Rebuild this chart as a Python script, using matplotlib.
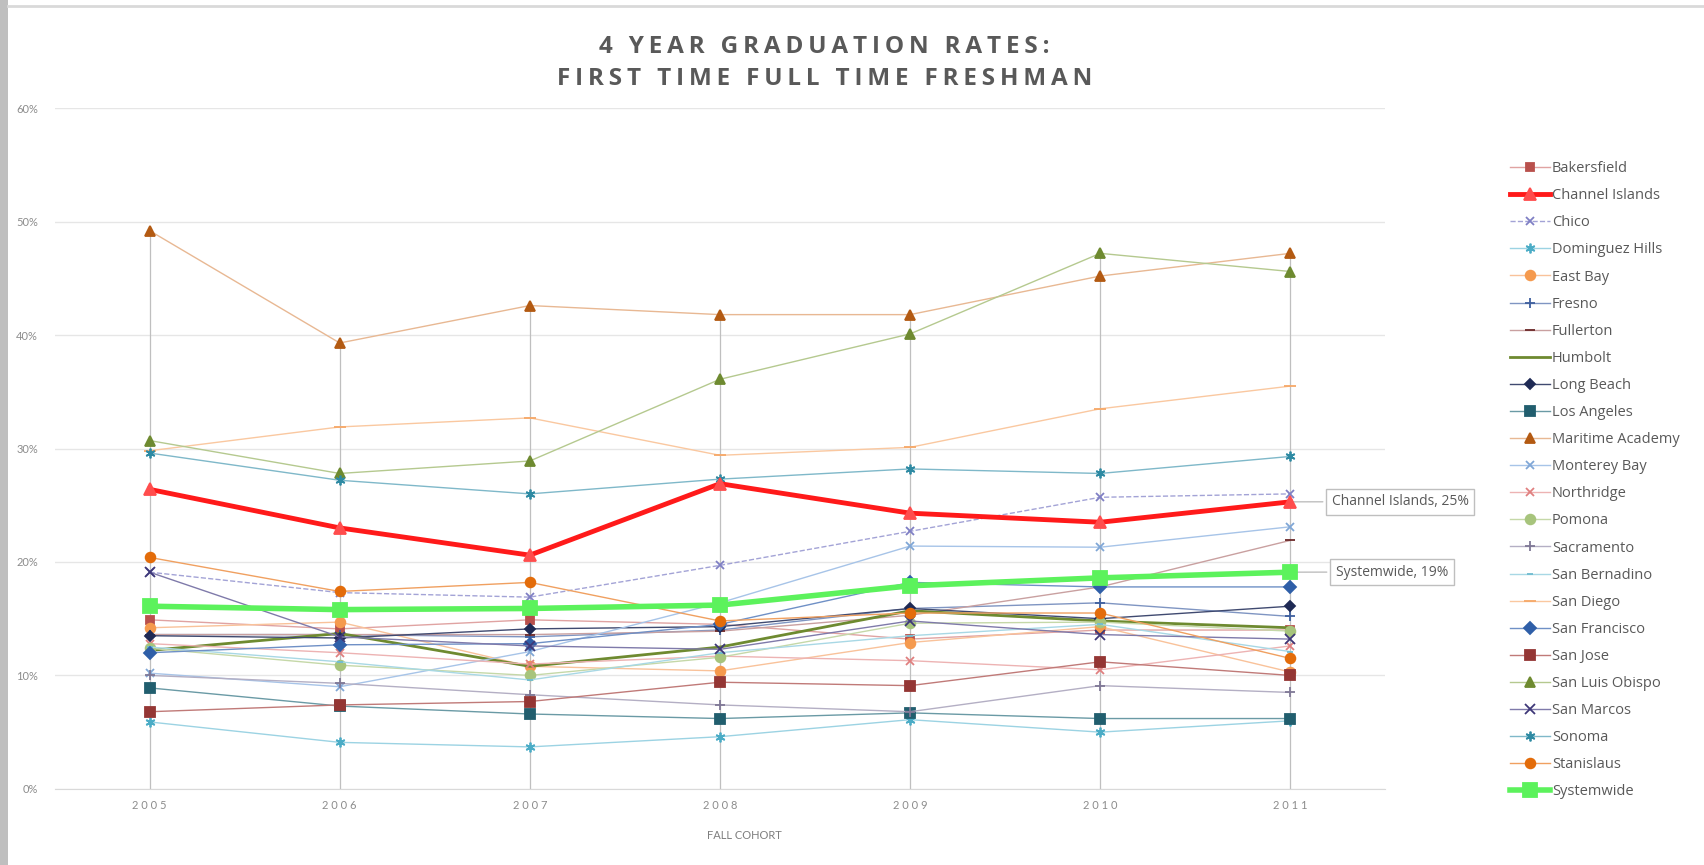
import matplotlib
matplotlib.use("Agg")
import matplotlib.pyplot as plt
import matplotlib.ticker as mticker
from matplotlib.patches import Rectangle
from matplotlib.lines import Line2D

plt.rcParams['font.family'] = ['Lato', 'DejaVu Sans']

years = [2005, 2006, 2007, 2008, 2009, 2010, 2011]

bakersfield = [14.9, 14.1, 14.9, 14.5, 13.2, 14.0, 14.0]
channel_islands = [26.4, 23.0, 20.6, 26.9, 24.3, 23.5, 25.3]
chico = [19.1, 17.3, 16.9, 19.7, 22.7, 25.7, 26.0]
dominguez_hills = [5.9, 4.1, 3.7, 4.6, 6.1, 5.0, 6.0]
east_bay = [14.2, 14.7, 10.8, 10.4, 12.9, 14.3, 10.3]
fresno = [13.6, 13.6, 13.4, 14.0, 15.9, 16.4, 15.2]
fullerton = [13.6, 13.6, 13.6, 13.9, 15.3, 17.8, 21.9]
humbolt = [12.2, 13.7, 10.8, 12.5, 15.7, 14.8, 14.2]
long_beach = [13.5, 13.3, 14.1, 14.3, 15.9, 15.0, 16.1]
los_angeles = [8.9, 7.3, 6.6, 6.2, 6.7, 6.2, 6.2]
maritime_academy = [49.2, 39.3, 42.6, 41.8, 41.8, 45.2, 47.2]
monterey_bay = [10.2, 9.0, 12.1, 16.4, 21.4, 21.3, 23.1]
northridge = [12.8, 12.0, 11.0, 11.7, 11.3, 10.5, 12.6]
pomona = [12.4, 10.9, 10.0, 11.6, 14.6, 14.7, 13.9]
sacramento = [10.0, 9.3, 8.3, 7.4, 6.8, 9.1, 8.5]
san_bernadino = [12.5, 11.2, 9.6, 12.0, 13.5, 14.5, 12.1]
san_diego = [29.8, 31.9, 32.7, 29.4, 30.1, 33.5, 35.5]
san_francisco = [12.0, 12.7, 12.8, 14.5, 18.2, 17.8, 17.8]
san_jose = [6.8, 7.4, 7.7, 9.4, 9.1, 11.2, 10.0]
san_luis_obispo = [30.7, 27.8, 28.9, 36.1, 40.1, 47.2, 45.6]
san_marcos = [19.1, 13.4, 12.6, 12.3, 14.8, 13.6, 13.2]
sonoma = [29.6, 27.2, 26.0, 27.3, 28.2, 27.8, 29.3]
stanislaus = [20.4, 17.4, 18.2, 14.8, 15.5, 15.5, 11.5]
systemwide = [16.1, 15.8, 15.9, 16.2, 17.9, 18.6, 19.1]

campuses = ["Bakersfield", "Channel Islands", "Chico", "Dominguez Hills", "East Bay",
            "Fresno", "Fullerton", "Humbolt", "Long Beach", "Los Angeles",
            "Maritime Academy", "Monterey Bay", "Northridge", "Pomona", "Sacramento",
            "San Bernadino", "San Diego", "San Francisco", "San Jose",
            "San Luis Obispo", "San Marcos", "Sonoma", "Stanislaus", "Systemwide"]
rates = [bakersfield, channel_islands, chico, dominguez_hills, east_bay, fresno,
         fullerton, humbolt, long_beach, los_angeles, maritime_academy, monterey_bay,
         northridge, pomona, sacramento, san_bernadino, san_diego, san_francisco,
         san_jose, san_luis_obispo, san_marcos, sonoma, stanislaus, systemwide]

asterisk = (6, 2, 0)
# line colour, marker colour, marker, marker size, line width, line style
styles = {
    "Bakersfield": ("#E0A3A2", "#B9504C", "s", 6, 1.0, "-"),
    "Channel Islands": ("#FF1A1A", "#FF4D4D", "^", 8, 3.5, "-"),
    "Chico": ("#A3A3D6", "#7F7FC4", "x", 6, 1.0, "--"),
    "Dominguez Hills": ("#9CD3E3", "#4BACC6", asterisk, 7, 1.0, "-"),
    "East Bay": ("#F9C29A", "#F59A4E", "o", 7, 1.0, "-"),
    "Fresno": ("#7F95C2", "#3E5F9E", "+", 7, 1.0, "-"),
    "Fullerton": ("#C9A0A0", "#6B2828", "_", 7, 1.0, "-"),
    "Humbolt": ("#6E8A30", "#6E8A30", "", 0, 2.0, "-"),
    "Long Beach": ("#404A70", "#1F2A55", "D", 5, 1.0, "-"),
    "Los Angeles": ("#6A9AA5", "#215E6E", "s", 7, 1.0, "-"),
    "Maritime Academy": ("#E8B893", "#B35A12", "^", 7, 1.0, "-"),
    "Monterey Bay": ("#A7C4E8", "#7FA6D6", "x", 6, 1.0, "-"),
    "Northridge": ("#EDB3B3", "#E07F7F", "x", 6, 1.0, "-"),
    "Pomona": ("#C5D8A8", "#A7C47C", "o", 7, 1.0, "-"),
    "Sacramento": ("#B4AFC4", "#7F7896", "+", 7, 1.0, "-"),
    "San Bernadino": ("#A8D8E5", "#6FBCD0", "_", 5, 1.0, "-"),
    "San Diego": ("#FAC8A0", "#F6A868", "_", 8, 1.0, "-"),
    "San Francisco": ("#6F90C6", "#2F5FA8", "D", 6, 1.0, "-"),
    "San Jose": ("#C07A78", "#943634", "s", 7, 1.0, "-"),
    "San Luis Obispo": ("#B5C98F", "#6E8A30", "^", 7, 1.0, "-"),
    "San Marcos": ("#7F7AAA", "#3E3878", "x", 7, 1.0, "-"),
    "Sonoma": ("#7FB8C9", "#2E8AA3", asterisk, 7, 1.0, "-"),
    "Stanislaus": ("#F0A060", "#E36C0A", "o", 7, 1.0, "-"),
    "Systemwide": ("#5CF25C", "#5CF25C", "s", 10, 4.0, "-"),
}

fig = plt.figure(figsize=(17.04, 8.65), dpi=100)
ax = fig.add_axes([0.032, 0.088, 0.781, 0.787])

# frame of the original slide
fig.patches.append(Rectangle((0, 0), 8 / 1704, 1, transform=fig.transFigure,
                             facecolor="#BFBFBF", edgecolor="none"))
fig.add_artist(Line2D([8 / 1704, 1], [1 - 6 / 865, 1 - 6 / 865], transform=fig.transFigure,
                      color="#D9D9D9", lw=2))

# drop lines from the highest value down to the axis
tops = [max(r[i] for r in rates) / 100 for i in range(len(years))]
ax.vlines(years, 0, tops, color="#BFBFBF", lw=0.9, zorder=1)

for name, vals in zip(campuses, rates):
    lc, mc, mk, ms, lw, ls = styles[name]
    z = 5 if name in ("Channel Islands", "Systemwide") else 3
    ax.plot(years, [v / 100 for v in vals], color=lc, lw=lw, ls=ls, marker=mk or None,
            markersize=ms, markerfacecolor=mc, markeredgecolor=mc, markeredgewidth=1.3,
            label=name, zorder=z)

ax.set_xlim(2004.5, 2011.5)
ax.set_ylim(0, 0.6)
ax.set_yticks([0, 0.1, 0.2, 0.3, 0.4, 0.5, 0.6])
ax.yaxis.set_major_formatter(mticker.PercentFormatter(1.0, decimals=0))
ax.set_xticks(years)
ax.set_xticklabels([" ".join(str(y)) for y in years])
ax.grid(axis="y", color="#E6E6E6", lw=1)
ax.set_axisbelow(True)
for s in ["top", "right", "left"]:
    ax.spines[s].set_visible(False)
ax.spines["bottom"].set_color("#D9D9D9")
ax.tick_params(length=0, colors="#8C8C8C", labelsize=8)
ax.tick_params(axis="x", pad=8)
ax.tick_params(axis="y", pad=12)
ax.set_xlabel("FALL COHORT", color="#7F7F7F", fontsize=8)
ax.xaxis.set_label_coords(0.518, -0.061)


def spaced(s):
    return "\u2009".join(s)


title_font = ["Open Sans", "DejaVu Sans"]
fig.text(0.484, 0.946, spaced("4 YEAR GRADUATION RATES:"), ha="center", va="center",
         fontsize=17.5, fontweight="bold", color="#595959", family=title_font)
fig.text(0.484, 0.909, spaced("FIRST TIME FULL TIME FRESHMAN"), ha="center", va="center",
         fontsize=17.5, fontweight="bold", color="#595959", family=title_font)

box = dict(boxstyle="square,pad=0.4", fc="white", ec="#BFBFBF", lw=1)
ax.annotate("Channel Islands, 25%", xy=(years[-1], channel_islands[-1] / 100),
            xytext=(0.7815, 0.42), textcoords="figure fraction", ha="left", va="center",
            fontsize=10, family=["Open Sans", "DejaVu Sans"], color="#595959",
            annotation_clip=False, bbox=box,
            arrowprops=dict(arrowstyle="-", color="#BFBFBF", lw=1))
ax.annotate("Systemwide, 19%", xy=(years[-1], systemwide[-1] / 100),
            xytext=(0.7838, 0.3387), textcoords="figure fraction", ha="left", va="center",
            fontsize=10, family=["Open Sans", "DejaVu Sans"], color="#595959",
            annotation_clip=False, bbox=box,
            arrowprops=dict(arrowstyle="-", color="#BFBFBF", lw=1))

leg = ax.legend(loc="upper left", bbox_to_anchor=(0.883, 0.8205), bbox_transform=fig.transFigure,
                frameon=False, prop={"family": ["Open Sans", "DejaVu Sans"], "size": 10.5},
                handlelength=2.7, handletextpad=0.15, labelspacing=0.83, borderaxespad=0)
for t in leg.get_texts():
    t.set_color("#595959")

fig.savefig("out.png", dpi=100, facecolor="white")
